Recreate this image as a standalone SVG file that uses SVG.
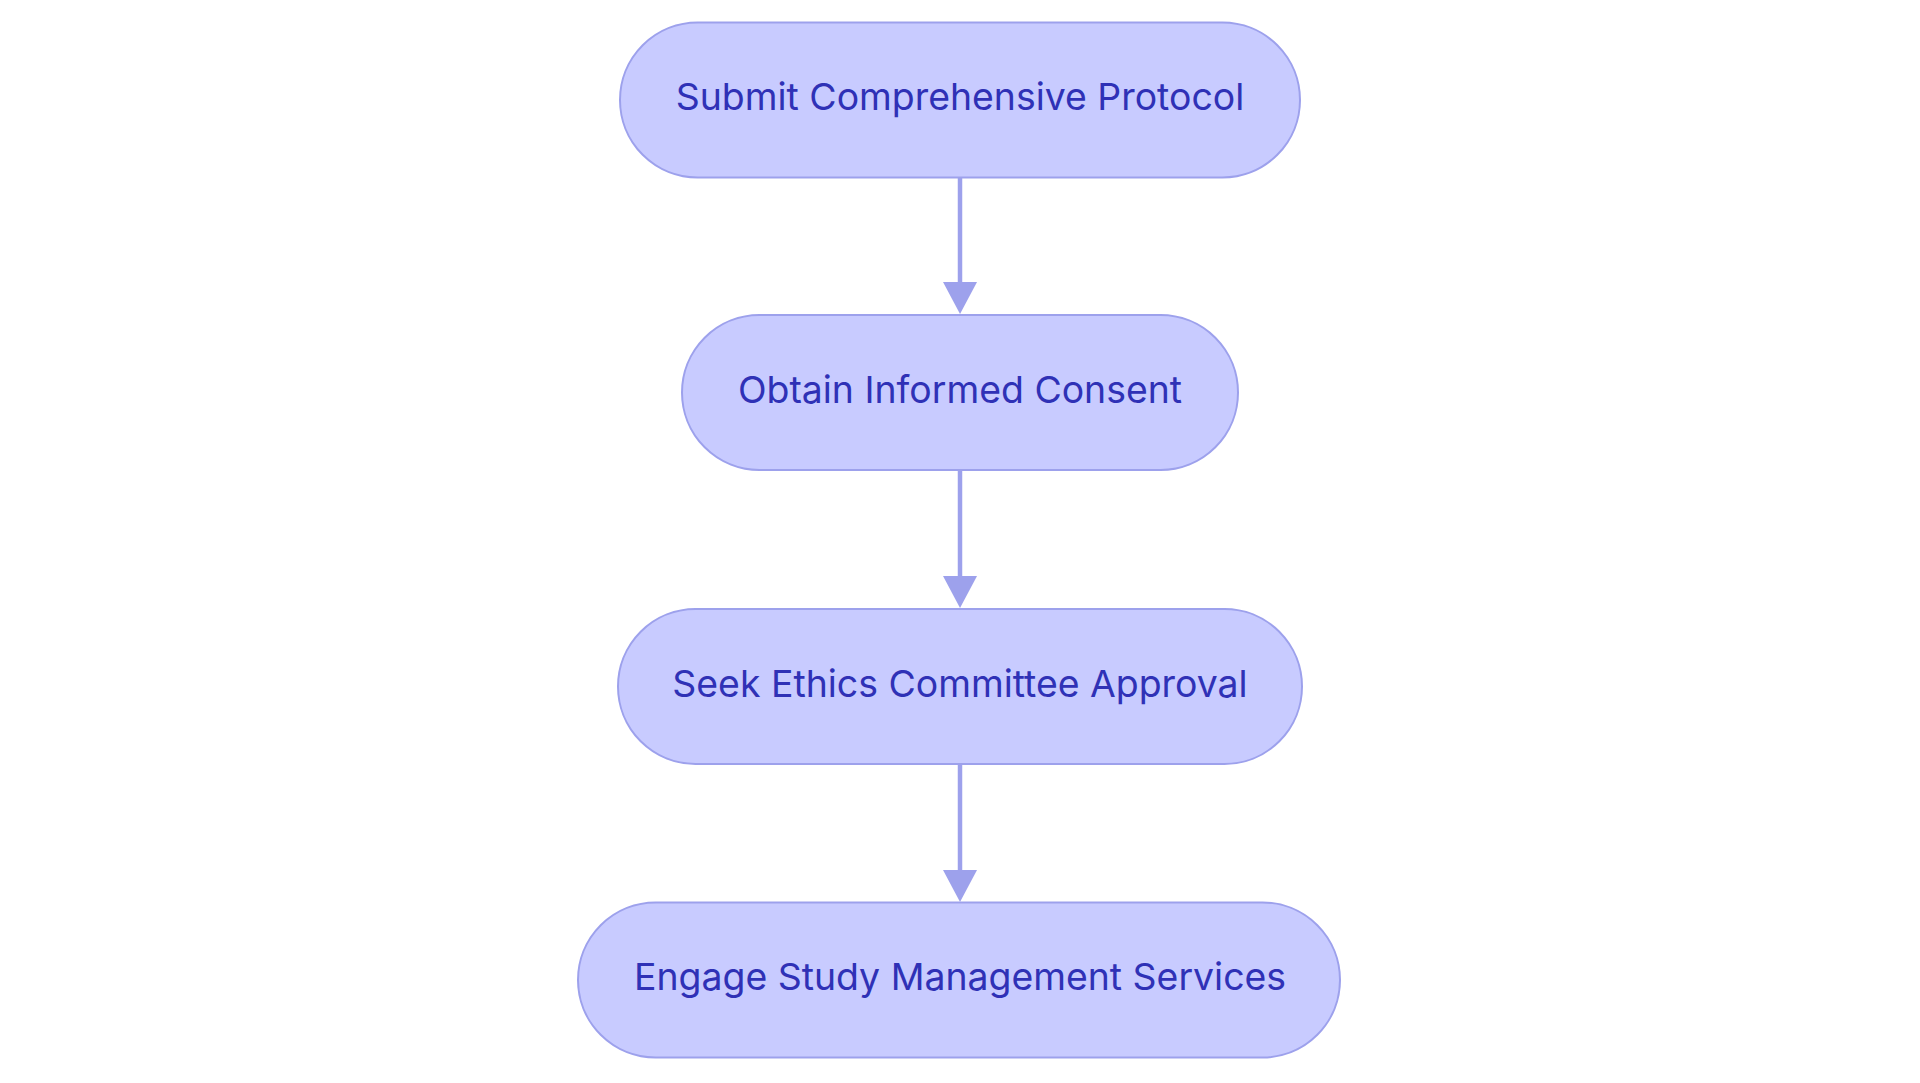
<svg xmlns="http://www.w3.org/2000/svg" width="1920" height="1083" viewBox="0 0 1920 1083">
<style>
.node rect{fill:#C8CBFF;stroke:#9DA1EC;stroke-width:2}
.node text{font-family:Inter,"Noto Sans",sans-serif;font-size:37.4px;font-weight:400;fill:#2F31B6;text-anchor:middle}
.edge line{stroke:#9DA1EC;stroke-width:4.5}
.edge polygon{fill:#9DA1EC}
</style>
<rect width="1920" height="1083" fill="#FFFFFF"/>
<g id="connectors" class="edge">
<line x1="960" y1="178" x2="960" y2="284"/>
<polygon points="943,282 977,282 960,314"/>
<line x1="960" y1="470" x2="960" y2="578"/>
<polygon points="943,576 977,576 960,608"/>
<line x1="960" y1="764" x2="960" y2="872"/>
<polygon points="943,870 977,870 960,902"/>
</g>
<g id="node1" class="node">
<rect x="620" y="22.5" width="680" height="155" rx="77.5"/>
<text x="960" y="110">Submit Comprehensive Protocol</text>
</g>
<g id="node2" class="node">
<rect x="682" y="315" width="556" height="155" rx="77.5"/>
<text x="960" y="403">Obtain Informed Consent</text>
</g>
<g id="node3" class="node">
<rect x="618" y="609" width="684" height="155" rx="77.5"/>
<text x="960" y="697">Seek Ethics Committee Approval</text>
</g>
<g id="node4" class="node">
<rect x="578" y="902.5" width="762" height="155" rx="77.5"/>
<text x="960" y="990">Engage Study Management Services</text>
</g>
</svg>
